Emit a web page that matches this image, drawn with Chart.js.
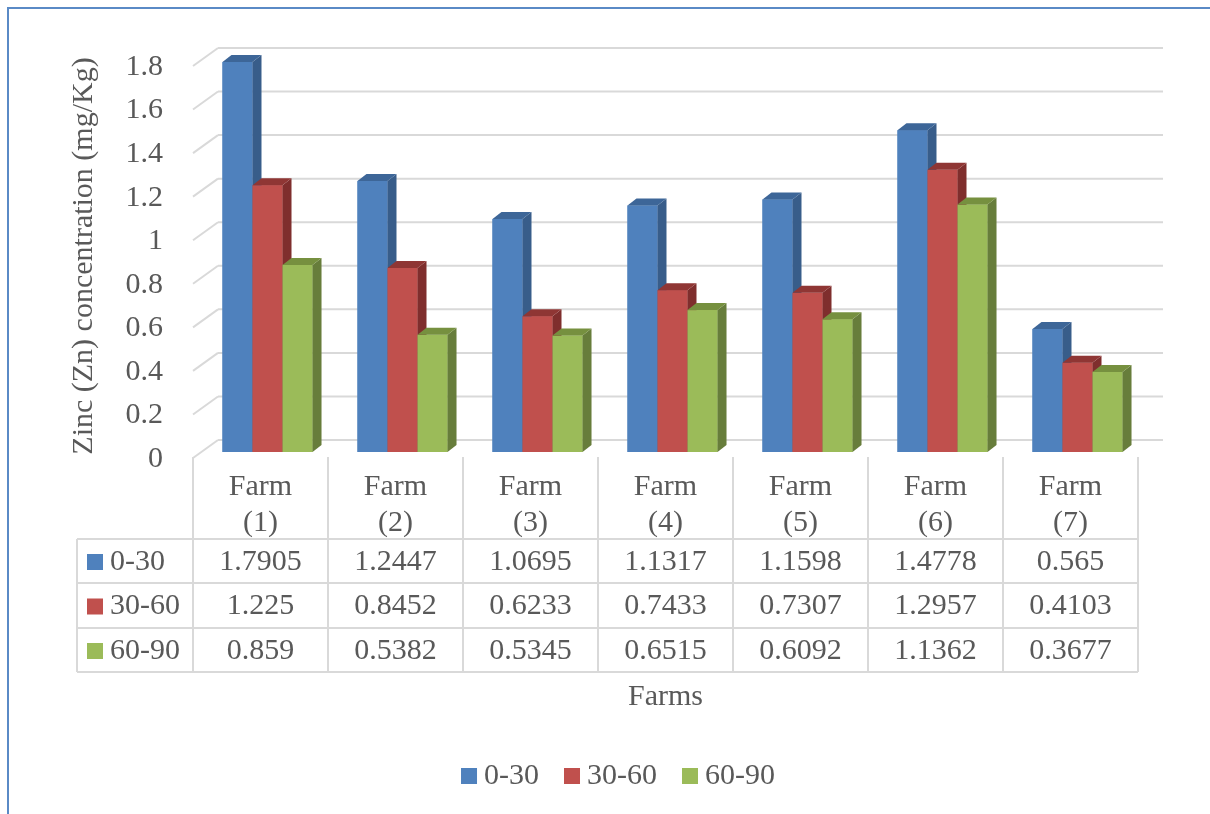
<!DOCTYPE html>
<html>
<head>
<meta charset="utf-8">
<script src="https://cdn.jsdelivr.net/npm/chart.js@4.4.0/dist/chart.umd.min.js"></script>
<style>
body { margin: 0; background: #fff; }
#wrap { position: relative; width: 1210px; height: 814px; overflow: hidden; }
#frame { position: absolute; left: 7px; top: 7px; width: 1300px; height: 900px;
         border-top: 2px solid #5a8ac6; border-left: 2px solid #5a8ac6; pointer-events: none; }
</style>
</head>
<body>
<div id="wrap">
  <canvas id="zincChart" width="1210" height="814"></canvas>
  <div id="frame"></div>
</div>
<script>
// data
var farms = [['Farm', '(1)'], ['Farm', '(2)'], ['Farm', '(3)'], ['Farm', '(4)'], ['Farm', '(5)'], ['Farm', '(6)'], ['Farm', '(7)']];
var seriesNames = ['0-30', '30-60', '60-90'];
var depth0_30 = [1.7905, 1.2447, 1.0695, 1.1317, 1.1598, 1.4778, 0.565];
var depth30_60 = [1.225, 0.8452, 0.6233, 0.7433, 0.7307, 1.2957, 0.4103];
var depth60_90 = [0.859, 0.5382, 0.5345, 0.6515, 0.6092, 1.1362, 0.3677];
var yMax = 1.8, yStep = 0.2;

var fronts = ['#4f81bd', '#c0504d', '#9bbb59'];
var sides = ['#385d8a', '#7f2e2d', '#677d3b'];
var tops = ['#3d6698', '#8f3634', '#76903f'];

var FONT = '"Liberation Serif", "Times New Roman", serif';
var TEXT = '#595959';
var LINE = '#d9d9d9';

// 3d offsets relative to the bar plane
var FRONT = { dx: -7, dy: 6 }, BACK = { dx: 18, dy: -12 }, SIDE = { dx: 9, dy: -7 };

var threeD = {
    id: 'threeD',
    beforeDatasetsDraw: function (chart) {
        var ctx = chart.ctx, a = chart.chartArea, y = chart.scales.y;
        ctx.save();
        ctx.strokeStyle = LINE;
        ctx.lineWidth = 2;
        y.ticks.forEach(function (t) {
            var py = y.getPixelForValue(t.value);
            ctx.beginPath();
            ctx.moveTo(a.left + BACK.dx, py + BACK.dy);
            ctx.lineTo(a.right + BACK.dx, py + BACK.dy);
            ctx.stroke();
            ctx.beginPath();
            ctx.moveTo(a.left + FRONT.dx, py + FRONT.dy);
            ctx.lineTo(a.left + BACK.dx, py + BACK.dy);
            ctx.stroke();
        });
        ctx.restore();
    },
    afterDatasetsDraw: function (chart) {
        var ctx = chart.ctx;
        ctx.save();
        for (var d = 0; d < chart.data.datasets.length; d++) {
            var meta = chart.getDatasetMeta(d);
            meta.data.forEach(function (bar) {
                var p = bar.getProps(['x', 'y', 'base', 'width'], true);
                var l = p.x - p.width / 2, r = p.x + p.width / 2;
                ctx.fillStyle = fronts[d];
                ctx.fillRect(l, p.y, p.width, p.base - p.y);
                ctx.fillStyle = sides[d];
                ctx.beginPath();
                ctx.moveTo(r, p.y);
                ctx.lineTo(r + SIDE.dx, p.y + SIDE.dy);
                ctx.lineTo(r + SIDE.dx, p.base + SIDE.dy);
                ctx.lineTo(r, p.base);
                ctx.closePath();
                ctx.fill();
                ctx.fillStyle = tops[d];
                ctx.beginPath();
                ctx.moveTo(l, p.y);
                ctx.lineTo(l + SIDE.dx, p.y + SIDE.dy);
                ctx.lineTo(r + SIDE.dx, p.y + SIDE.dy);
                ctx.lineTo(r, p.y);
                ctx.closePath();
                ctx.fill();
            });
        }
        ctx.restore();
    },
    afterDraw: function (chart) {
        var ctx = chart.ctx, x = chart.scales.x;
        var step = x.getPixelForValue(1) - x.getPixelForValue(0);
        var colLeft = x.getPixelForValue(0) - step / 2 + FRONT.dx;
        var colRight = colLeft + step * farms.length;
        var tableLeft = 77, headTop = 457;
        var rows = [539, 583, 628, 672];
        ctx.save();
        ctx.strokeStyle = LINE;
        ctx.lineWidth = 2;
        // vertical lines
        for (var i = 0; i <= farms.length; i++) {
            var cx = colLeft + i * step;
            ctx.beginPath(); ctx.moveTo(cx, headTop); ctx.lineTo(cx, rows[3]); ctx.stroke();
        }
        ctx.beginPath(); ctx.moveTo(tableLeft, rows[0]); ctx.lineTo(tableLeft, rows[3]); ctx.stroke();
        rows.forEach(function (ry) {
            ctx.beginPath(); ctx.moveTo(tableLeft, ry); ctx.lineTo(colRight, ry); ctx.stroke();
        });

        // table values
        var series = [depth0_30, depth30_60, depth60_90];
        ctx.font = '30px ' + FONT;
        ctx.fillStyle = TEXT;
        ctx.textBaseline = 'middle';
        for (var s = 0; s < series.length; s++) {
            var cy = (rows[s] + rows[s + 1]) / 2 + 1;
            ctx.fillStyle = fronts[s];
            ctx.fillRect(87, cy - 8, 16, 16);
            ctx.fillStyle = TEXT;
            ctx.textAlign = 'left';
            ctx.fillText(seriesNames[s], 110, cy);
            ctx.textAlign = 'center';
            series[s].forEach(function (v, j) {
                ctx.fillText(String(v), x.getPixelForValue(j) + FRONT.dx, cy);
            });
        }

        // x axis title, centred on the front plane
        ctx.textAlign = 'center';
        ctx.fillText('Farms', (colLeft + colRight) / 2, 697);

        // legend
        var gapBox = 7, gapItem = 25, box = 16;
        var widths = seriesNames.map(function (n) { return box + gapBox + ctx.measureText(n).width; });
        var total = widths.reduce(function (a, b) { return a + b; }, 0) + gapItem * (widths.length - 1);
        var lx = 618 - total / 2, ly = 776;
        ctx.textAlign = 'left';
        for (var k = 0; k < seriesNames.length; k++) {
            ctx.fillStyle = fronts[k];
            ctx.fillRect(lx, ly - 8, box, box);
            ctx.fillStyle = TEXT;
            ctx.fillText(seriesNames[k], lx + box + gapBox, ly);
            lx += widths[k] + gapItem;
        }
        ctx.restore();
    }
};

var ctxZinc = document.getElementById('zincChart').getContext('2d');
var zincChart = new Chart(ctxZinc, {
    type: 'bar',
    data: {
        labels: farms,
        datasets: [
            { label: seriesNames[0], data: depth0_30, backgroundColor: fronts[0] },
            { label: seriesNames[1], data: depth30_60, backgroundColor: fronts[1] },
            { label: seriesNames[2], data: depth60_90, backgroundColor: fronts[2] }
        ]
    },
    options: {
        responsive: false,
        animation: false,
        layout: { padding: { left: 20, top: 60, right: 65, bottom: 100 } },
        datasets: { bar: { barPercentage: 1, categoryPercentage: 0.667, borderWidth: 0 } },
        scales: {
            x: {
                grid: { display: false, drawTicks: false },
                border: { display: false },
                ticks: { color: TEXT, font: { family: FONT, size: 30, lineHeight: 1.2 }, padding: 17, labelOffset: FRONT.dx, maxRotation: 0 },
                afterFit: function (scale) { scale.height = 262; }
            },
            y: {
                min: 0,
                max: yMax,
                grid: { display: false, drawTicks: false },
                border: { display: false },
                ticks: {
                    stepSize: yStep, color: TEXT, font: { family: FONT, size: 30 }, padding: 37, labelOffset: 7,
                    callback: function (v) { return String(Math.round(v * 10) / 10); }
                },
                title: { display: true, text: 'Zinc (Zn) concentration (mg/Kg)', color: TEXT, font: { family: FONT, size: 30, lineHeight: 1.2 }, padding: { top: 46, bottom: 0 } },
                afterFit: function (scale) { scale.width = 180; }
            }
        },
        plugins: {
            legend: { display: false },
            tooltip: { enabled: false }
        }
    },
    plugins: [threeD]
});
</script>
</body>
</html>
